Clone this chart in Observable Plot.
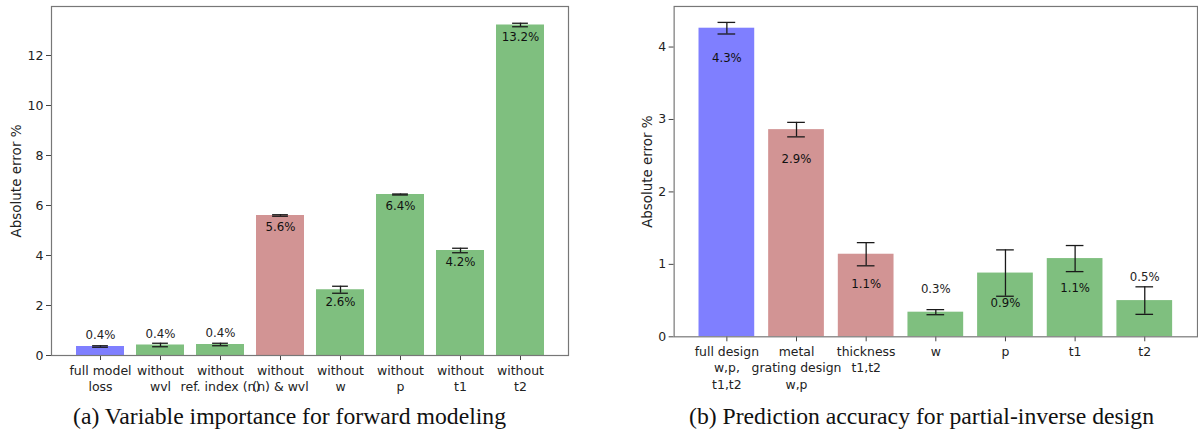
<!DOCTYPE html>
<html>
<head>
<meta charset="utf-8">
<script src="https://cdn.jsdelivr.net/npm/d3@7"></script>
<script src="https://cdn.jsdelivr.net/npm/@observablehq/plot@0.6"></script>
<style>
  html, body { margin: 0; padding: 0; background: #fff; }
  body { width: 1198px; height: 435px; overflow: hidden; position: relative; }
  .panel { position: absolute; top: 0; }
  .caption {
    position: absolute; top: 402px; font-family: "Liberation Serif", "Times New Roman", serif;
    font-size: 23.7px; line-height: 28px; color: #111; white-space: nowrap; transform: translateX(-50%);
  }
</style>
</head>
<body>
<div id="left" class="panel" style="left:0px"></div>
<div id="right" class="panel" style="left:600px"></div>
<div class="caption" style="left:289.5px">(a) Variable importance for forward modeling</div>
<div class="caption" style="left:921.5px">(b) Prediction accuracy for partial-inverse design</div>
<script>
// (a) Forward model: absolute error when inputs are removed
const forwardLabels = [
  "full model\nloss", "without\nwvl", "without\nref. index (n)", "without\n(n) & wvl",
  "without\nw", "without\np", "without\nt1", "without\nt2"
];
const forwardValues = [0.36, 0.42, 0.44, 5.6, 2.63, 6.44, 4.2, 13.22];
const forwardErrors = [0.03, 0.07, 0.05, 0.03, 0.14, 0.02, 0.09, 0.07];
const forwardGroups = ["full", "single", "single", "combined", "single", "single", "single", "single"];
const forwardTicks = [0, 2, 4, 6, 8, 10, 12];

// (b) Partial-inverse design: prediction accuracy per predicted parameter set
const inverseLabels = [
  "full design\nw,p,\nt1,t2", "metal\ngrating design\nw,p", "thickness\nt1,t2",
  "w", "p", "t1", "t2"
];
const inverseValues = [4.26, 2.86, 1.14, 0.34, 0.88, 1.08, 0.5];
const inverseErrors = [0.08, 0.10, 0.16, 0.035, 0.32, 0.18, 0.19];
const inverseGroups = ["full", "combined", "combined", "single", "single", "single", "single"];
const inverseTicks = [0, 1, 2, 3, 4];

const groupColors = {domain: ["full", "combined", "single"], range: ["#7f7fff", "#d29494", "#7fbf7f"]};

function barPanel({labels, values, errors, groups, ticks, yMax, width, height,
                   marginLeft, marginRight, marginTop, marginBottom,
                   paddingOuter, capWidth, labelAbove, labelBelow, labelOffset}) {
  const data = labels.map((label, i) => ({label, value: values[i], error: errors[i], group: groups[i]}));
  const paddingInner = 0.2;
  const innerWidth = width - marginLeft - marginRight;
  const step = innerWidth / (labels.length - paddingInner + 2 * paddingOuter);
  const bandwidth = step * (1 - paddingInner);
  const capInset = (bandwidth - capWidth) / 2;
  const small = d => d.value < 0.6;
  const fmt = d => d.value.toFixed(1) + "%";
  return Plot.plot({
    width, height, marginLeft, marginRight, marginTop, marginBottom,
    style: {fontFamily: "'DejaVu Sans', sans-serif", fontSize: "12.5px", color: "#222", background: "white", overflow: "visible"},
    x: {domain: labels, paddingInner, paddingOuter, label: null},
    y: {domain: [0, yMax], label: null},
    color: groupColors,
    marks: [
      Plot.barY(data, {x: "label", y: "value", fill: "group"}),
      Plot.ruleX(data, {x: "label", y1: d => d.value - d.error, y2: d => d.value + d.error, stroke: "#1a1a1a", strokeWidth: 1.3}),
      Plot.tickY(data, {x: "label", y: d => d.value - d.error, stroke: "#1a1a1a", strokeWidth: 1.3, insetLeft: capInset, insetRight: capInset}),
      Plot.tickY(data, {x: "label", y: d => d.value + d.error, stroke: "#1a1a1a", strokeWidth: 1.3, insetLeft: capInset, insetRight: capInset}),
      Plot.text(data.filter(small), {x: "label", y: "value", text: fmt, dy: -labelAbove, fontSize: 11.8, fill: "#222"}),
      Plot.text(data.filter(d => !small(d)), {x: "label", y: "value", text: fmt, dy: labelBelow, fontSize: 11.8, fill: "#111"}),
      Plot.axisY({ticks, tickFormat: d => String(d), tickSize: 5, tickPadding: 3, stroke: "#444", label: null}),
      Plot.axisY({ticks: [], tickSize: 0, label: "Absolute error %", labelAnchor: "center", labelArrow: false,
                  labelOffset, fontSize: 13.5}),
      Plot.axisX({tickSize: 5, tickPadding: 3, stroke: "#444", lineHeight: 1.3}),
      Plot.frame({stroke: "#777", strokeWidth: 1.2})
    ]
  });
}

document.getElementById("left").append(barPanel({
  labels: forwardLabels, values: forwardValues, errors: forwardErrors, groups: forwardGroups,
  ticks: forwardTicks, yMax: 13.96, width: 580, height: 400,
  marginLeft: 51, marginRight: 12, marginTop: 6, marginBottom: 45,
  paddingOuter: 0.39, capWidth: 16, labelAbove: 11, labelBelow: 12, labelOffset: 40
}));

document.getElementById("right").append(barPanel({
  labels: inverseLabels, values: inverseValues, errors: inverseErrors, groups: inverseGroups,
  ticks: inverseTicks, yMax: 4.56, width: 601, height: 400,
  marginLeft: 74, marginRight: 1, marginTop: 6, marginBottom: 62,
  paddingOuter: 0.34, capWidth: 18, labelAbove: 23, labelBelow: 30, labelOffset: 32
}));
</script>
</body>
</html>
